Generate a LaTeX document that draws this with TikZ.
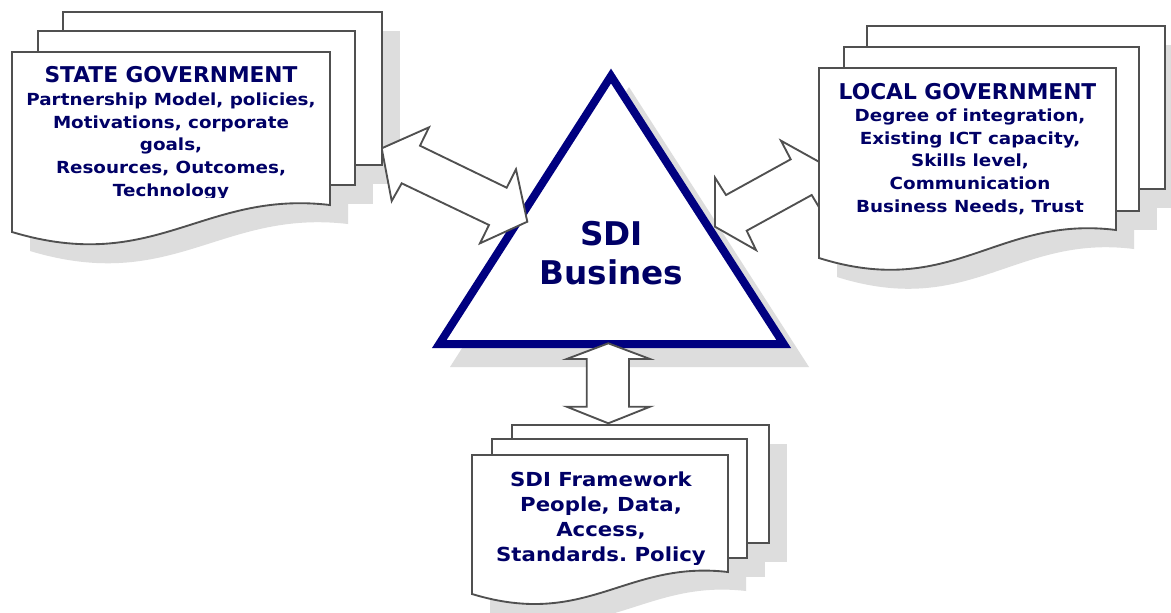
\documentclass[tikz,border=0pt]{standalone}
\usepackage{fontspec}
\setmainfont{DejaVu Sans}
\newfontfamily\widefont[FakeStretch=1.1]{DejaVu Sans}
\definecolor{txtc}{RGB}{0,0,102}
\definecolor{navyc}{RGB}{0,0,128}
\definecolor{edgec}{RGB}{80,80,80}
\definecolor{shadc}{RGB}{221,221,221}
\frenchspacing
\begin{document}
\begin{tikzpicture}[x=0.75pt,y=-0.75pt,
  pagestyle/.style={draw=edgec, fill=white, line width=1.4pt, line join=miter},
  shadowstyle/.style={fill=shadc, draw=none},
  blockarrow/.style={draw=edgec, fill=white, line width=1.4pt, line join=miter},
  titletext/.style={text=txtc, font=\bfseries\fontsize{16.3}{20}\selectfont, align=center, inner sep=0pt, anchor=base},
  bodytext/.style={text=txtc, font=\widefont\bfseries\fontsize{12.5}{16.9}\selectfont, align=center, inner sep=0pt, anchor=base},
]
\path[use as bounding box, fill=white] (0,0) rectangle (1171,612);

% ---------- shadows ----------
\begin{scope}[shift={(18,19)}]
  \fill[shadowstyle] (63,12) rectangle (382,165);
  \fill[shadowstyle] (38,31) rectangle (355,185);
  \fill[shadowstyle] (12,52) -- (330,52) -- (330,205) .. controls (202.8,190) and (155.1,275) .. (12,232) -- cycle;
  \fill[shadowstyle] (867,26) rectangle (1165,189);
  \fill[shadowstyle] (844,47) rectangle (1139,211);
  \fill[shadowstyle] (819,68) -- (1116,68) -- (1116,230) .. controls (997.2,215) and (952.7,300) .. (819,258) -- cycle;
  \fill[shadowstyle] (512,425) rectangle (769,543);
  \fill[shadowstyle] (492,439) rectangle (747,558);
  \fill[shadowstyle] (472,455) -- (728,455) -- (728,572) .. controls (625.6,560) and (587.2,629) .. (472,594) -- cycle;
  \fill[shadowstyle] (432,348) -- (611,68) -- (791,348) -- cycle;
\end{scope}

% ---------- triangle ----------
\draw[draw=navyc, fill=white, line width=6pt, line join=miter] (439.3,344) -- (611,76) -- (783.7,344) -- cycle;
\node[text=txtc, font=\bfseries\fontsize{24.5}{29.25}\selectfont, align=center, inner sep=0pt, anchor=base] (sdi) at (611.5,284) {SDI\\Busines};

% ---------- block arrows ----------
\draw[blockarrow] (381.7,148.3) -- (429,127.3) -- (420,145.7) -- (506.7,187.7) -- (516,169.3) -- (527.3,221.7) -- (480,243.3) -- (489,225) -- (401.7,183.3) -- (391.7,201) -- cycle;
\draw[blockarrow] (821.7,163.3) -- (781,140.7) -- (790.7,159.3) -- (726,195) -- (715,177.7) -- (715,226.7) -- (756,250) -- (746.7,230.7) -- (811.7,195) -- (821.7,211.7) -- cycle;
\draw[blockarrow] (608.3,343.3) -- (650,359) -- (629,359) -- (629,406.7) -- (650,406.7) -- (608.3,423.3) -- (566.7,406.7) -- (586.7,406.7) -- (586.7,359) -- (566.7,359) -- cycle;

% ---------- state government stack ----------
\draw[pagestyle] (63,12) rectangle (382,165);
\draw[pagestyle] (38,31) rectangle (355,185);
\draw[pagestyle] (12,52) -- (330,52) -- (330,205) .. controls (202.8,190) and (155.1,275) .. (12,232) -- cycle;
\node[titletext] (state-title) at (171,82.7) {STATE GOVERNMENT};
\begin{scope}
  \clip (0,0) rectangle (1171,197.5);
  \node[bodytext] (state-body) at (171,196) {Partnership Model, policies,\\Motivations, corporate\\goals,\\Resources, Outcomes,\\Technology};
\end{scope}

% ---------- local government stack ----------
\draw[pagestyle] (867,26) rectangle (1165,189);
\draw[pagestyle] (844,47) rectangle (1139,211);
\draw[pagestyle] (819,68) -- (1116,68) -- (1116,230) .. controls (997.2,215) and (952.7,300) .. (819,258) -- cycle;
\node[titletext] (local-title) at (967.5,99) {LOCAL GOVERNMENT};
\node[bodytext] (local-body) at (970,212) {Degree of integration,\\Existing ICT capacity,\\Skills level,\\Communication\\Business Needs, Trust};

% ---------- SDI framework stack ----------
\draw[pagestyle] (512,425) rectangle (769,543);
\draw[pagestyle] (492,439) rectangle (747,558);
\draw[pagestyle] (472,455) -- (728,455) -- (728,572) .. controls (625.6,560) and (587.2,629) .. (472,594) -- cycle;
\begin{scope}
  \clip (0,0) rectangle (1171,564);
  \node[text=txtc, font=\widefont\bfseries\fontsize{14.5}{18.9}\selectfont, align=center, inner sep=0pt, anchor=base] (frame) at (601,561.7) {SDI Framework\\People, Data,\\Access,\\Standards. Policy};
\end{scope}
\end{tikzpicture}
\end{document}
